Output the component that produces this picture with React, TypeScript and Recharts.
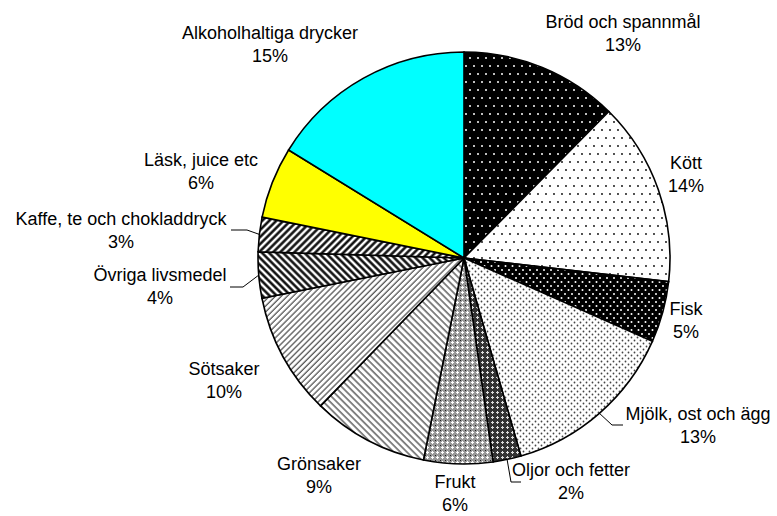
import React from "react";
import { PieChart, Pie, Cell } from "recharts";

const categories = [
  "Bröd och spannmål",
  "Kött",
  "Fisk",
  "Mjölk, ost och ägg",
  "Oljor och fetter",
  "Frukt",
  "Grönsaker",
  "Sötsaker",
  "Övriga livsmedel",
  "Kaffe, te och chokladdryck",
  "Läsk, juice etc",
  "Alkoholhaltiga drycker",
];

// share of slice
const shares = [12.4, 14.4, 4.8, 13.9, 2.2, 5.4, 9.1, 9.6, 3.6, 2.7, 5.6, 16.2];

// percent texts as printed on the chart
const shareLabels = ["13%", "14%", "5%", "13%", "2%", "6%", "9%", "10%", "4%", "3%", "6%", "15%"];

const data = categories.map((name, i) => ({
  name,
  value: shares[i],
  label: shareLabels[i],
}));

// fills per slice, patterns defined below
const FILLS = [
  "url(#pBrod)",
  "url(#pKott)",
  "url(#pFisk)",
  "url(#pMjolk)",
  "url(#pOljor)",
  "url(#pFrukt)",
  "url(#pGron)",
  "url(#pSot)",
  "url(#pOvriga)",
  "url(#pKaffe)",
  "#FFFF00",
  "#00FFFF",
];

// label anchors (centre of first text line)
const LABEL_POS: [number, number][] = [
  [623, 22],
  [686, 163],
  [686, 309],
  [698, 414],
  [571, 470],
  [455, 482],
  [319, 464],
  [224, 369],
  [160, 275],
  [121, 219],
  [201, 160],
  [270, 33],
];

// leader line points after the slice edge
const LEADERS: Record<number, [number, number][]> = {
  3: [[612, 425], [623, 425]],
  4: [[511, 482], [521, 482]],
  8: [[243, 287], [230, 287]],
  9: [[247, 230], [231, 230]],
};

const RAD = Math.PI / 180;

const renderLabel = (props: any) => {
  const { cx, cy, midAngle, outerRadius, index } = props;
  const [lx, ly] = LABEL_POS[index];
  const leader = LEADERS[index];
  let line = null;
  if (leader) {
    const ex = cx + outerRadius * Math.cos(-midAngle * RAD);
    const ey = cy + outerRadius * Math.sin(-midAngle * RAD);
    const pts = [[ex, ey], ...leader].map((p) => p.join(",")).join(" ");
    line = <polyline points={pts} fill="none" stroke="#000" strokeWidth={1} />;
  }
  return (
    <g key={`lbl-${index}`}>
      {line}
      <text
        x={lx}
        y={ly}
        textAnchor="middle"
        dominantBaseline="central"
        fill="#000"
        fontSize={18}
        fontFamily="'Liberation Sans', Arial, sans-serif"
      >
        {data[index].name}
      </text>
      <text
        x={lx}
        y={ly + 23}
        textAnchor="middle"
        dominantBaseline="central"
        fill="#000"
        fontSize={18}
        fontFamily="'Liberation Sans', Arial, sans-serif"
      >
        {data[index].label}
      </text>
    </g>
  );
};

export default function App() {
  return (
    <div
      style={{
        position: "absolute",
        left: 0,
        top: 0,
        width: 777,
        height: 516,
        background: "#fff",
      }}
    >
      <PieChart width={777} height={516} margin={{ top: 0, right: 0, bottom: 0, left: 0 }}>
        <defs>
          <pattern id="pBrod" patternUnits="userSpaceOnUse" width={8} height={16}>
            <rect width={8} height={16} fill="#000" />
            <circle cx={2} cy={2} r={1} fill="#fff" />
            <circle cx={6} cy={10} r={1} fill="#fff" />
          </pattern>
          <pattern id="pKott" patternUnits="userSpaceOnUse" width={8} height={16}>
            <rect width={8} height={16} fill="#fff" />
            <circle cx={2} cy={2} r={0.9} fill="#000" />
            <circle cx={6} cy={10} r={0.9} fill="#000" />
          </pattern>
          <pattern id="pFisk" patternUnits="userSpaceOnUse" width={7} height={8}>
            <rect width={7} height={8} fill="#000" />
            <circle cx={1.5} cy={2} r={1} fill="#fff" />
            <circle cx={5} cy={6} r={1} fill="#fff" />
          </pattern>
          <pattern id="pMjolk" patternUnits="userSpaceOnUse" width={6} height={6}>
            <rect width={6} height={6} fill="#fff" />
            <circle cx={1.5} cy={1.5} r={0.9} fill="#444" />
            <circle cx={4.5} cy={4.5} r={0.9} fill="#444" />
          </pattern>
          <pattern id="pOljor" patternUnits="userSpaceOnUse" width={5} height={5}>
            <rect width={5} height={5} fill="#333" />
            <rect x={2} y={1} width={1} height={3} fill="#ddd" />
            <rect x={1} y={2} width={3} height={1} fill="#ddd" />
          </pattern>
          <pattern id="pFrukt" patternUnits="userSpaceOnUse" width={5} height={5}>
            <rect width={5} height={5} fill="#999" />
            <rect x={2} y={1} width={1} height={3} fill="#fff" />
            <rect x={1} y={2} width={3} height={1} fill="#fff" />
            <rect x={0} y={0} width={1} height={1} fill="#222" />
          </pattern>
          <pattern id="pGron" patternUnits="userSpaceOnUse" width={4.7} height={10} patternTransform="rotate(-45)">
            <rect width={4.7} height={10} fill="#fff" />
            <line x1={1} y1={0} x2={1} y2={10} stroke="#555" strokeWidth={1.4} />
          </pattern>
          <pattern id="pSot" patternUnits="userSpaceOnUse" width={4.2} height={10} patternTransform="rotate(45)">
            <rect width={4.2} height={10} fill="#fff" />
            <line x1={1} y1={0} x2={1} y2={10} stroke="#555" strokeWidth={1.3} />
          </pattern>
          <pattern id="pOvriga" patternUnits="userSpaceOnUse" width={5} height={10} patternTransform="rotate(-45)">
            <rect width={5} height={10} fill="#fff" />
            <line x1={1.5} y1={0} x2={1.5} y2={10} stroke="#000" strokeWidth={2.4} />
          </pattern>
          <pattern id="pKaffe" patternUnits="userSpaceOnUse" width={5} height={10} patternTransform="rotate(45)">
            <rect width={5} height={10} fill="#fff" />
            <line x1={1.5} y1={0} x2={1.5} y2={10} stroke="#000" strokeWidth={2.4} />
          </pattern>
        </defs>
        <Pie
          data={data}
          dataKey="value"
          nameKey="name"
          cx={464}
          cy={258}
          outerRadius={206}
          startAngle={90}
          endAngle={-270}
          stroke="#000"
          strokeWidth={1.6}
          label={renderLabel}
          labelLine={false}
          isAnimationActive={false}
        >
          {data.map((_, i) => (
            <Cell key={`cell-${i}`} fill={FILLS[i]} stroke="#000" strokeWidth={1.6} />
          ))}
        </Pie>
      </PieChart>
    </div>
  );
}
